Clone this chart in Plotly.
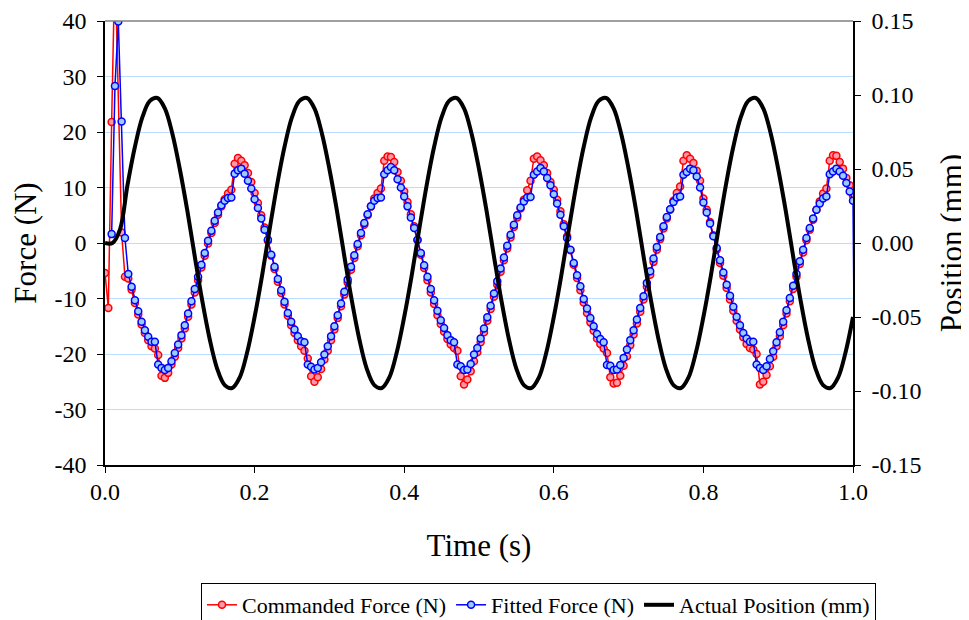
import numpy as np
import plotly.graph_objects as go

SAMPLE_RATE = 225.0  # force samples per second

commanded_force = [
    -5.4, -11.7, 21.8, 51.0, None, 1.9, -6.1, -6.4,
    -8.4, -10.8, -12.9, -14.7, -16.2, -17.5, -18.6, -19.0, -20.2, -23.9, -24.3, -23.4, -21.9, -20.5, -18.9, -17.2,
    -15.4, -13.3, -11.1, -8.9, -6.7, -4.4, -2.3, -0.1, 1.8, 3.6, 5.1, 6.6, 7.9, 8.9, 9.6, 14.3, 15.3, 14.8, 14.0, 12.6, 11.0,
    9.0, 7.2, 5.0, 2.8, 0.4, -2.3, -4.7, -7.0, -9.0, -11.1, -13.1, -14.8, -16.2, -17.5, -18.6, -19.4, -20.8, -24.0, -25.0,
    -24.2, -22.7, -21.0, -19.4, -17.5, -15.6, -13.5, -11.4, -9.3, -7.1, -4.8, -2.7, -0.6, 1.4, 3.3, 5.0, 6.6, 8.0, 9.0, 9.8,
    14.8, 15.6, 15.5, 14.6, 12.8, 11.2,
    9.3, 7.4, 5.2, 3.0, 0.5, -2.1, -4.5, -6.7, -8.9, -11.0, -13.0, -14.6, -16.0, -17.3, -18.3, -18.9, -19.4, -24.0, -25.5,
    -24.6, -23.1, -21.3, -19.7, -17.9, -16.1, -14.0, -11.9, -9.7, -7.5, -5.2, -3.1, -1.0, 1.0, 2.9, 4.6, 6.2, 7.8, 9.5, 11.2,
    15.2, 15.6, 14.9, 14.0, 12.6, 11.0,
    9.6, 7.8, 5.7, 3.4, 1.2, -1.3, -3.9, -6.3, -8.5, -10.7, -12.6, -14.3, -15.8, -17.2, -18.2, -19.0, -19.8, -24.2, -25.3,
    -25.2, -23.9, -22.1, -20.4, -18.4, -16.5, -14.5, -12.4, -10.2, -7.9, -5.7, -3.4, -1.2, 0.7, 2.6, 4.4, 6.0, 7.6, 9.0, 10.2,
    14.8, 15.8, 15.2, 14.4, 13.0,
    11.2, 8.0, 6.0, 3.8, 1.4, -1.2, -3.6, -5.9, -8.1, -10.2, -12.2, -14.0, -15.6, -17.0, -18.2, -18.9, -19.2, -20.0, -25.5,
    -25.0, -23.8, -22.2, -20.5, -18.6, -16.8, -14.8, -12.7, -10.5, -8.3, -6.1, -3.8, -1.7, 0.5, 2.4, 4.2, 6.0, 7.5, 8.9, 9.8,
    14.8, 15.8, 15.7, 14.6, 13.4, 11.7, 10.4, 8.5, None,
]

fitted_force = [
    None, None, 1.6, 28.3, 39.9, 21.9, 0.9, -5.6,
    -7.9, -10.3, -12.3, -14.2, -15.7, -16.9, -17.8, -17.8, -21.9, -22.5, -22.9, -22.5, -21.3, -19.8, -18.3, -16.6,
    -14.8, -12.7, -10.5, -8.3, -6.1, -3.9, -1.8, 0.4, 2.2, 4.0, 5.5, 6.8, 7.6, 8.1, 8.2, 12.5, 13.1, 13.4, 12.5, 11.2, 9.8,
    7.9, 6.3, 4.4, 2.4, 0.6, -2.1, -4.3, -6.5, -8.5, -10.6, -12.6, -14.2, -15.6, -16.8, -17.7, -17.9, -21.9, -22.3, -22.8,
    -22.5, -21.5, -20.1, -18.6, -16.8, -15.0, -13.0, -10.9, -8.8, -6.6, -4.3, -2.2, -0.2, 1.8, 3.6, 5.2, 6.6, 7.6, 8.1, 8.2,
    12.4, 13.1, 13.7, 13.1, 11.5, 10.0,
    8.4, 6.6, 4.6, 2.7, 0.6, -1.8, -4.0, -6.1, -8.3, -10.3, -12.2, -13.9, -15.3, -16.6, -17.5, -17.9, -21.9, -22.2, -22.9,
    -22.8, -21.8, -20.1, -18.9, -17.2, -15.4, -13.4, -11.3, -9.1, -6.9, -4.6, -2.6, -0.5, 1.5, 3.3, 5.0, 6.4, 7.5, 8.2, 8.3,
    12.3, 12.9, 13.5, 12.9, 11.7, 10.4,
    8.8, 7.1, 5.1, 3.0, 0.9, -1.2, -3.6, -5.8, -7.8, -10.1, -11.8, -13.5, -15.0, -16.4, -17.3, -17.9, -22.0, -22.1, -22.9,
    -22.8, -22.0, -20.7, -19.2, -17.5, -15.7, -13.8, -11.7, -9.6, -7.2, -5.1, -2.8, -0.7, 1.1, 3.0, 4.7, 6.1, 7.4, 8.2, 8.4,
    12.3, 12.8, 13.4, 13.1, 12.0,
    10.0, 7.3, 5.5, 3.5, 1.2, -0.9, -3.1, -5.3, -7.5, -9.5, -11.5, -13.3, -14.8, -16.2, -17.2, -17.8, -17.8, -21.9, -22.5,
    -22.9, -22.2, -20.9, -19.5, -17.9, -16.1, -14.2, -12.1, -9.9, -7.7, -5.6, -3.3, -1.2, 0.9, 2.7, 4.4, 6.0, 7.1, 8.0, 8.4,
    12.4, 12.9, 13.4, 12.9, 12.1, 10.8, 9.3, 7.6, -60.0,
]

POS_STEP = 0.01  # s between position readings
actual_position = [
    0.000, 0.000, 0.009, 0.039, 0.065, 0.085, 0.096, 0.098, 0.091, 0.074, 0.050, 0.022,
    -0.009, -0.039, -0.065, -0.085, -0.096, -0.098, -0.091, -0.074, -0.050, -0.022,
    0.009, 0.039, 0.065, 0.085, 0.096, 0.098, 0.091, 0.074, 0.050, 0.022,
    -0.009, -0.039, -0.065, -0.085, -0.096, -0.098, -0.091, -0.074, -0.050, -0.022,
    0.009, 0.039, 0.065, 0.085, 0.096, 0.098, 0.091, 0.074, 0.050, 0.022,
    -0.009, -0.039, -0.065, -0.085, -0.096, -0.098, -0.091, -0.074, -0.050, -0.022,
    0.009, 0.039, 0.065, 0.085, 0.096, 0.098, 0.091, 0.074, 0.050, 0.022,
    -0.009, -0.039, -0.065, -0.085, -0.096, -0.098, -0.091, -0.074, -0.050, -0.022,
    0.009, 0.039, 0.065, 0.085, 0.096, 0.098, 0.091, 0.074, 0.050, 0.022,
    -0.009, -0.039, -0.065, -0.085, -0.096, -0.098, -0.091, -0.074, -0.050,
]

force_ticks = [-40, -30, -20, -10, 0, 10, 20, 30, 40]
force_labels = ["-40", "-30", "-20", "-10", "0", "10", "20", "30", "40"]
pos_ticks = [-0.15, -0.10, -0.05, 0.00, 0.05, 0.10, 0.15]
pos_labels = ["-0.15", "-0.10", "-0.05", "0.00", "0.05", "0.10", "0.15"]
time_ticks = [0.0, 0.2, 0.4, 0.6, 0.8, 1.0]
time_labels = ["0.0", "0.2", "0.4", "0.6", "0.8", "1.0"]

t_force = np.arange(len(commanded_force)) / SAMPLE_RATE
t_pos = np.arange(len(actual_position)) * POS_STEP

FONT = "Liberation Serif"
TICK_SIZE = 24
TITLE_SIZE = 31
PAGE_OFFSET = 8  # default page margin around the figure

fig = go.Figure()
fig.add_trace(go.Scatter(
    x=t_force, y=commanded_force, name="Commanded Force (N)", mode="lines+markers",
    connectgaps=True,
    line=dict(color="#FF0000", width=1.5),
    marker=dict(symbol="circle", size=7, color="#FF99AA", line=dict(color="#FF0000", width=1.5)),
))
fig.add_trace(go.Scatter(
    x=t_force, y=fitted_force, name="Fitted Force (N)", mode="lines+markers",
    line=dict(color="#0000FF", width=1.5),
    marker=dict(symbol="circle", size=7, color="#99CCFF", line=dict(color="#0000FF", width=1.5)),
))
fig.add_trace(go.Scatter(
    x=t_pos, y=actual_position, name="Actual Position (mm)", mode="lines", yaxis="y2",
    line=dict(color="#000000", width=4, shape="spline", smoothing=1.0),
))

fig.update_layout(
    width=969, height=620,
    margin=dict(l=105 - PAGE_OFFSET, r=124, t=21 - PAGE_OFFSET, b=163),
    paper_bgcolor="white", plot_bgcolor="white",
    font=dict(family=FONT, color="black", size=TICK_SIZE),
    showlegend=True,
    legend=dict(
        orientation="h", xref="container", yref="container",
        x=(201 - PAGE_OFFSET) / 969, y=(620 - (583 - PAGE_OFFSET)) / 620,
        xanchor="left", yanchor="top",
        font=dict(family=FONT, size=22, color="black"),
        bordercolor="black", borderwidth=1, bgcolor="white",
        itemwidth=30, tracegroupgap=0,
    ),
    xaxis=dict(
        range=[0, 1], tickvals=time_ticks, ticktext=time_labels, automargin=False,
        showgrid=False, zeroline=False,
        showline=True, linecolor="black", linewidth=1.5,
        ticks="outside", ticklen=6, tickcolor="black", ticklabelstandoff=-2,
        title=dict(text="Time (s)", font=dict(size=TITLE_SIZE), standoff=31),
        tickfont=dict(size=TICK_SIZE),
    ),
    yaxis=dict(
        range=[-40, 40], tickvals=force_ticks, ticktext=force_labels, automargin=False,
        showgrid=True, gridcolor="#BBDDFF", gridwidth=1, zeroline=False,
        showline=True, linecolor="black", linewidth=1.5,
        ticks="outside", ticklen=6, tickcolor="black", ticklabelstandoff=6,
        title=dict(text="Force (N)", font=dict(size=TITLE_SIZE), standoff=12),
        tickfont=dict(size=TICK_SIZE),
    ),
    yaxis2=dict(
        range=[-0.15, 0.15], tickvals=pos_ticks, ticktext=pos_labels, automargin=False,
        overlaying="y", side="right",
        showgrid=False, zeroline=False,
        showline=True, linecolor="black", linewidth=1.5,
        ticks="outside", ticklen=6, tickcolor="black", ticklabelstandoff=6,
        title=dict(text="Position (mm)", font=dict(size=TITLE_SIZE), standoff=20),
        tickfont=dict(size=TICK_SIZE),
    ),
    shapes=[dict(type="line", xref="paper", yref="paper", x0=0, x1=1, y0=1, y1=1,
                 line=dict(color="#808080", width=1.5))],
)

fig.write_html("out.html")
